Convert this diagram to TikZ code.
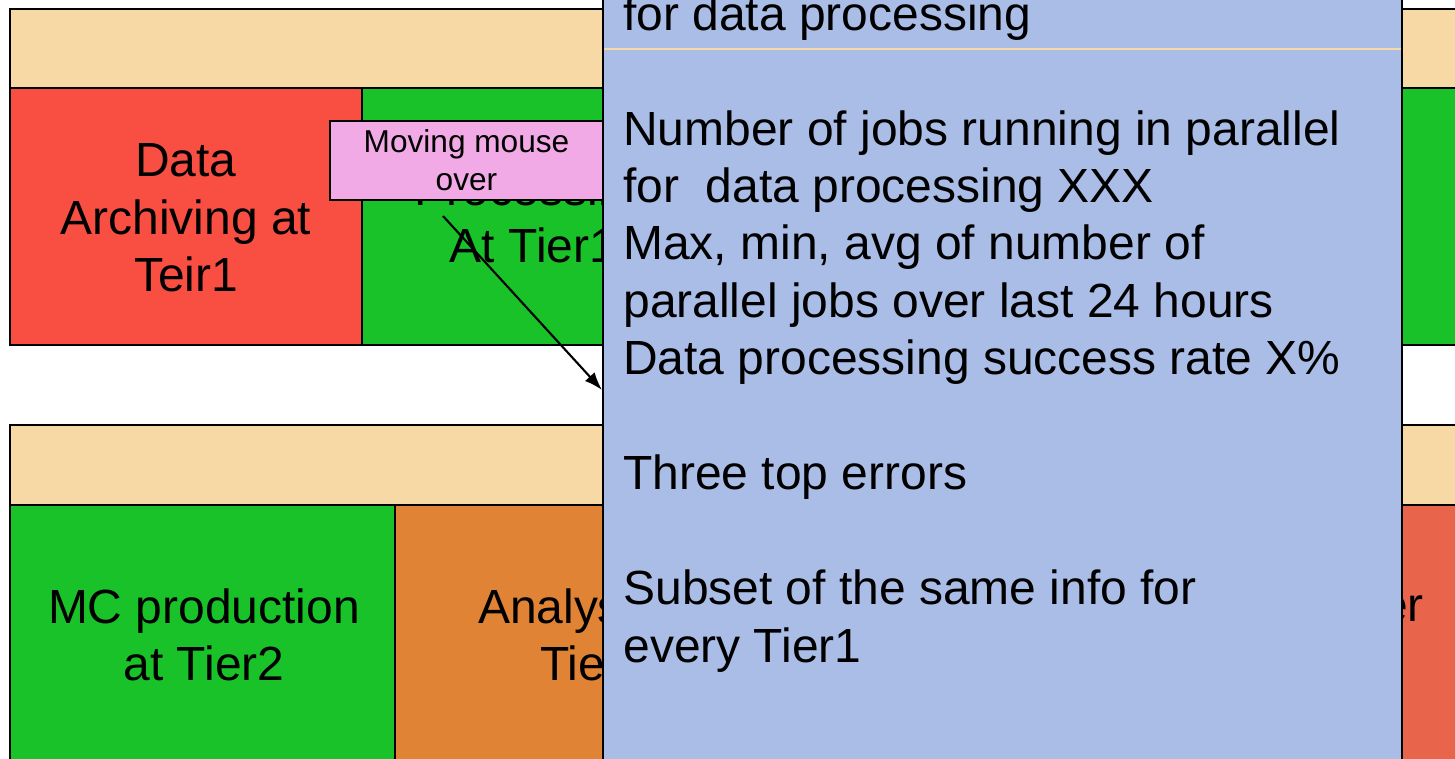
\documentclass[tikz,border=0pt]{standalone}
\usepackage{fontspec}
\setmainfont{Liberation Sans}
\usetikzlibrary{arrows.meta}
\definecolor{headbeige}{HTML}{F7D9A6}
\definecolor{boxred}{HTML}{F94F43}
\definecolor{boxgreen}{HTML}{18C228}
\definecolor{boxorange}{HTML}{E18335}
\definecolor{boxbrick}{HTML}{E8644A}
\definecolor{popblue}{HTML}{AABDE6}
\definecolor{hintpink}{HTML}{F2AAE6}
\tikzset{
	frame/.style={draw=black, line width=1.2pt},
	bigtext/.style={font=\fontsize{27.3}{32.7}\selectfont, align=center, inner sep=0pt},
	smalltext/.style={font=\fontsize{18}{21.6}\selectfont, align=center}
}
\begin{document}
\begin{tikzpicture}[x=0.02cm, y=-0.02cm]
	    \tikzset{>={Latex[length=3.6mm,width=2.6mm]}}
	    \useasboundingbox (0,0) rectangle (1455,758);
	    \clip (0,0) rectangle (1455,758);
	    \coordinate (tail) at (443,216);
	    \coordinate (head) at (602,390);
	    \filldraw [frame, fill=headbeige] (10,9) rectangle (1475,88);
	    \filldraw [frame, fill=boxred] (10,88) rectangle (362,345);
	    \filldraw [frame, fill=boxgreen] (362,88) rectangle (1475,345);
	    \node [bigtext] (archiving) at (186,218) {Data\\Archiving at\\Teir1};
	    \node [bigtext] (processing) at (533,217) {Processing\\At Tier1};
	    \filldraw [frame, fill=headbeige] (10,425) rectangle (1475,505);
	    \filldraw [frame, fill=boxgreen] (10,505) rectangle (395,775);
	    \filldraw [frame, fill=boxorange] (395,505) rectangle (785,775);
	    \filldraw [frame, fill=boxbrick] (1180,505) rectangle (1475,775);
	    \node [bigtext] (mcprod) at (204,635) {MC production\\at Tier2};
	    \node [bigtext] (analysis) at (594,635) {Analysis at\\Tier2};
	    \node [bigtext, anchor=base east] (transfer) at (1424,621) {er};
	    \node [smalltext, frame, fill=hintpink, minimum width=5.46cm, minimum height=1.58cm] (hint) at (466.5,160.5) {Moving mouse\\over};
	    \filldraw [frame, fill=popblue] (603,-10) rectangle (1402,775);
	    \draw [headbeige, line width=0.6pt] (604,49) -- (1401,49);
	    \node [bigtext, align=left, anchor=north west] (details) at (623,-5) {for data processing\\ \\Number of jobs running in parallel\\for\ \ data processing XXX\\Max, min, avg of number of\\parallel jobs over last 24 hours\\Data processing success rate X\%\\ \\Three top errors\\ \\Subset of the same info for\\every Tier1};
	    \draw [->, line width=1.2pt] (tail) -- (head);
	\end{tikzpicture}
\end{document}
